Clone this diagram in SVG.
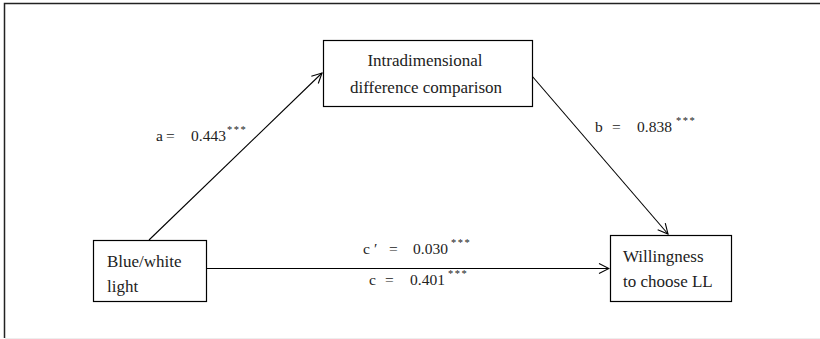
<svg xmlns="http://www.w3.org/2000/svg" width="820" height="339" viewBox="0 0 820 339">
<style>
.box{fill:#fff;stroke:#000;stroke-width:1.2}
.ln{stroke:#000;stroke-width:1.1;fill:none}
.t{font-size:17px}
.lbl{font-size:15.5px}
.sup{font-size:10.5px;letter-spacing:1.5px}
</style>
<defs>
<marker id="arr" viewBox="0 0 12 12" refX="11" refY="6" markerWidth="12" markerHeight="12" markerUnits="userSpaceOnUse" orient="auto">
<path d="M1,1 L11,6 L1,11" fill="none" stroke="#000" stroke-width="1.1"/>
</marker>
</defs>
<rect x="0" y="0" width="820" height="339" fill="#fff"/>
<path d="M4.5,338 L4.5,3.5 L820,3.5" fill="none" stroke="#222" stroke-width="1.5"/>
<line x1="5" y1="338.5" x2="820" y2="338.5" stroke="#eee" stroke-width="1"/>
<g id="connectors">
<line class="ln" x1="149" y1="240" x2="322" y2="73" marker-end="url(#arr)"/>
<line class="ln" x1="532" y1="76" x2="668" y2="234" marker-end="url(#arr)"/>
<line class="ln" x1="207" y1="268.5" x2="609" y2="268.5" marker-end="url(#arr)"/>
</g>
<g font-family="'Liberation Serif', 'Times New Roman', Times, serif" fill="#222">
<g id="mediator">
<rect class="box" x="323.5" y="40.5" width="209" height="66"/>
<text class="t" x="425" y="66" text-anchor="middle">Intradimensional</text>
<text class="t" x="426" y="93" text-anchor="middle">difference comparison</text>
</g>
<g id="predictor">
<rect class="box" x="93.5" y="240.5" width="113" height="61"/>
<text class="t" x="107" y="267">Blue/white</text>
<text class="t" x="107" y="292">light</text>
</g>
<g id="outcome">
<rect class="box" x="610.5" y="235.5" width="121" height="66"/>
<text class="t" x="623" y="262">Willingness</text>
<text class="t" x="623" y="287">to choose LL</text>
</g>
<g id="labels">
<text class="lbl" y="141"><tspan x="156">a</tspan><tspan x="166">=</tspan><tspan x="191">0.443</tspan><tspan class="sup" x="227" dy="-8">***</tspan></text>
<text class="lbl" y="132"><tspan x="595">b</tspan><tspan x="612">=</tspan><tspan x="637">0.838</tspan><tspan class="sup" x="676" dy="-8">***</tspan></text>
<text class="lbl" y="254"><tspan x="363">c</tspan><tspan x="374">′</tspan><tspan x="389">=</tspan><tspan x="413">0.030</tspan><tspan class="sup" x="451" dy="-8">***</tspan></text>
<text class="lbl" y="285"><tspan x="369">c</tspan><tspan x="385">=</tspan><tspan x="410">0.401</tspan><tspan class="sup" x="448" dy="-8">***</tspan></text>
</g>
</g>
</svg>
